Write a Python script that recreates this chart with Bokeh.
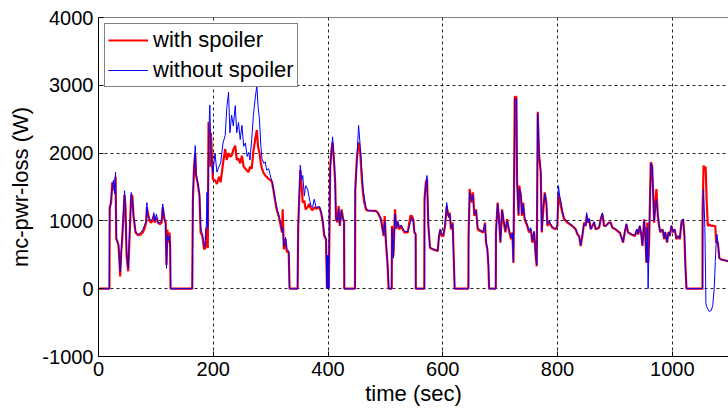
from bokeh.plotting import figure
from bokeh.models import Range1d, FixedTicker, Span
from bokeh.embed import file_html
from bokeh.resources import INLINE

# ---- data ----
time_sec = [0, 19, 19.5, 22, 24, 26, 28, 29.7, 31, 33, 35, 37.8, 39.5, 41, 45.4, 47, 49, 51.8, 57, 59,
            61, 64.5, 68.5, 74, 77, 80, 83, 84.3, 86, 89, 92, 95, 96.5, 98, 101, 104, 107, 110, 112, 115,
            117, 118.5, 120, 122, 123.8, 125, 125.6, 163.4, 164.5, 166.5, 168.6, 170, 173, 176, 178, 181, 184, 186, 188, 189,
            190.5, 191.8, 194, 196, 199.4, 203, 206.4, 210, 213, 217, 220.8, 223.5, 226.7, 229, 232, 235, 238.3, 241, 244, 247,
            250, 253, 256, 259, 261.6, 264, 267, 270, 273, 276, 278, 280.5, 283, 284.9, 288, 290.6, 293, 296.5, 300, 302.5,
            306, 308.3, 311, 314, 317, 319.9, 321, 323, 326, 328, 331.5, 333, 347, 348, 351.7, 354, 356, 358.7, 361, 364.5,
            367, 370.3, 373, 376.1, 379, 385, 388, 391, 393.5, 396.5, 398.2, 399, 399.8, 400.5, 401.3, 402, 403.9, 406, 408, 410.5,
            412.5, 413.9, 416.5, 418.5, 420.5, 423.6, 426.5, 428, 428.4, 447, 447.5, 450.3, 453.3, 456.2, 458.5, 460.8, 463.2, 466.1, 469, 475,
            483.5, 487, 492.2, 495, 497, 498.8, 501, 503.9, 505.7, 511, 511.5, 513.9, 516.8, 519.1, 521.5, 524.4, 527.3, 533.1, 539, 543.6,
            545.8, 548.7, 550.5, 552.8, 553, 567.9, 568.2, 570.5, 572.6, 574.9, 577.8, 583.6, 591.2, 593.5, 595.8, 598.1, 601, 604, 606.9, 609.8,
            612.1, 614.4, 617.3, 619.7, 620.8, 644.7, 645, 646.9, 650.4, 652.7, 655, 658, 660.9, 665, 670.7, 673.6, 675.4, 677.7, 679.6, 680.8,
            692.4, 692.7, 695.6, 697.6, 700.5, 703.4, 706.3, 709.2, 712.1, 715, 719, 721.4, 723.2, 725.5, 728.4, 729.5, 732.1, 733.3, 736.2, 737.9,
            740.2, 742.6, 744.9, 747.2, 750.4, 753.3, 756.2, 759.1, 762, 763.8, 765.5, 767.9, 770.8, 772.5, 774.8, 777.7, 780.6, 782.4, 785.3, 791.1,
            796.9, 799.8, 801.5, 803.8, 806.2, 808.5, 811.4, 817.2, 825.9, 831.7, 834.6, 837.5, 840.4, 843.3, 846.3, 849.2, 850.9, 852.6, 855, 857.9,
            860.8, 863.7, 866.6, 872.4, 875.3, 878.2, 881.1, 884, 889.8, 892.7, 895.6, 901.4, 907.2, 908.5, 914.3, 917.2, 920.1, 923, 928.9, 934.7,
            938.7, 940.5, 943.4, 946.3, 948, 950.9, 952.7, 955, 956.5, 957.9, 959.6, 962.6, 964.9, 966.7, 968.4, 970.7, 972.4, 974.8, 977.1, 979.1,
            983.1, 986, 987.8, 991, 993.3, 995.6, 998.5, 1001.4, 1004.3, 1007.3, 1010.2, 1013.1, 1016, 1018.9, 1021.2, 1022.9, 1024.8, 1052.7, 1052.9, 1054.6,
            1056.8, 1058, 1058.6, 1059.8, 1062, 1064.4, 1068, 1070.5, 1073.1, 1075, 1076.5, 1078, 1079.5, 1082, 1085.6, 1100]

with_spoiler = [0, 0, 1200, 1270, 1570, 1520, 1450, 1650, 730, 700, 630, 180, 530, 680, 1380, 1220, 480, 257, 1380, 1370,
                1070, 830, 790, 800, 830, 880, 975, 1200, 1120, 1000, 975, 1020, 1080, 975, 1050, 975, 950, 975, 1200, 1030,
                975, 350, 870, 680, 830, 580, 0, 0, 1300, 1800, 2000, 1670, 1550, 1370, 830, 780, 580, 600, 900, 700,
                600, 2460, 1800, 2300, 1610, 1600, 1545, 1650, 1570, 1850, 2060, 1900, 2000, 1950, 1960, 2050, 2110, 1900, 1920, 1850,
                1960, 1800, 1770, 1740, 1720, 1800, 1770, 2030, 2200, 2340, 2100, 2000, 1850, 1770, 1700, 1670, 1650, 1620, 1600, 1570,
                1400, 1270, 1150, 1075, 950, 830, 1170, 580, 730, 550, 530, 0, 0, 900, 1750, 1520, 1270, 1300, 1170, 1200,
                1250, 1180, 1160, 1200, 1180, 1200, 1120, 975, 777, 730, 0, 490, 0, 490, 0, 500, 1820, 2050, 2160, 1870,
                1570, 1025, 980, 1220, 925, 1170, 1025, 1000, 0, 0, 1470, 1915, 2160, 2010, 1670, 1420, 1270, 1170, 1150, 1150,
                1150, 1120, 1025, 875, 777, 1070, 680, 330, 0, 0, 925, 480, 1170, 880, 975, 875, 925, 830, 830, 1075,
                1075, 1020, 830, 800, 0, 0, 1320, 1570, 1620, 925, 600, 580, 555, 777, 875, 777, 777, 925, 1220, 1075,
                1120, 875, 975, 280, 0, 0, 777, 1470, 1270, 1420, 1075, 1170, 875, 850, 830, 975, 680, 580, 330, 0,
                0, 830, 1270, 1075, 680, 1170, 975, 830, 1025, 875, 730, 830, 380, 2830, 2830, 1570, 1075, 1520, 1370, 1075,
                1270, 1025, 975, 925, 830, 875, 680, 830, 480, 330, 2610, 1965, 1720, 830, 1120, 1420, 1270, 925, 975, 900,
                875, 925, 1400, 1300, 1200, 1120, 1025, 975, 925, 875, 800, 777, 630, 777, 975, 925, 1080, 975, 1025, 875,
                925, 975, 875, 900, 1025, 1100, 925, 925, 975, 975, 900, 875, 830, 830, 680, 830, 950, 830, 800, 777,
                875, 800, 925, 777, 630, 1025, 830, 380, 975, 380, 680, 1865, 1815, 1420, 975, 1270, 1470, 1075, 925, 830,
                875, 730, 830, 680, 830, 777, 925, 830, 875, 730, 777, 730, 975, 1025, 777, 330, 0, 0, 1170, 1815,
                1750, 1800, 1700, 1320, 925, 950, 925, 930, 925, 925, 680, 700, 680, 450, 430, 400]

without_spoiler = [0, 0, 1150, 1300, 1500, 1600, 1400, 1720, 760, 680, 650, 250, 500, 720, 1445, 1150, 520, 300, 1420, 1300,
                   1100, 850, 800, 830, 870, 930, 1000, 1270, 1080, 1030, 1000, 1060, 1120, 1000, 1100, 960, 980, 1000, 1250, 1000,
                   960, 300, 800, 720, 780, 600, 0, 0, 1370, 1750, 2110, 1700, 1570, 1400, 900, 800, 650, 620, 950, 1420,
                   900, 2200, 2710, 2000, 1700, 2000, 1720, 1800, 1860, 2150, 2260, 2660, 2900, 2300, 2560, 2400, 2700, 2300, 2450, 2200,
                   2410, 2100, 2150, 1950, 2010, 1900, 2200, 2560, 2800, 3000, 2700, 2500, 2100, 1920, 1850, 1870, 1750, 1770, 1650, 1580,
                   1420, 1300, 1180, 1090, 980, 850, 900, 620, 760, 580, 560, 0, 0, 950, 1820, 1600, 1670, 1370, 1520, 1470,
                   1350, 1220, 1200, 1320, 1200, 1210, 1130, 1000, 800, 740, 0, 490, 0, 490, 0, 500, 1750, 2000, 2240, 1900,
                   1600, 1050, 1000, 1180, 950, 1150, 1000, 980, 0, 0, 1400, 1900, 2410, 2100, 1800, 1500, 1350, 1200, 1160, 1150,
                   1140, 1110, 1030, 900, 800, 1000, 700, 380, 0, 0, 900, 450, 1100, 900, 1000, 900, 940, 850, 840, 975,
                   1050, 1000, 850, 800, 0, 0, 1300, 1500, 1670, 950, 610, 580, 560, 780, 880, 800, 790, 950, 1270, 1050,
                   1100, 900, 950, 300, 0, 0, 800, 1420, 1300, 1380, 1100, 1150, 900, 870, 840, 950, 700, 600, 350, 0,
                   0, 800, 1250, 1100, 700, 1150, 1000, 850, 1000, 900, 750, 820, 400, 2800, 2800, 1600, 1100, 1480, 1400, 1100,
                   1250, 1050, 1000, 950, 850, 900, 700, 850, 500, 350, 2580, 2000, 1700, 850, 1150, 1400, 1250, 950, 1000, 910,
                   880, 950, 1520, 1370, 1270, 1150, 1050, 990, 930, 880, 820, 780, 640, 790, 960, 930, 1120, 980, 1040, 880,
                   930, 990, 880, 905, 1030, 1120, 930, 920, 980, 970, 905, 880, 835, 830, 690, 840, 960, 835, 805, 785,
                   880, 805, 930, 780, 640, 1000, 840, 400, 900, 0, 650, 1850, 1800, 1400, 1000, 1250, 1320, 1100, 930, 840,
                   880, 740, 840, 690, 840, 780, 930, 840, 880, 740, 780, 740, 980, 1030, 780, 350, 0, 0, 1025, 1470,
                   900, 200, -213, -260, -300, -336, -320, -250, 0, 400, 680, 800, 680, 450, 430, 400]

x_ticks = [0, 200, 400, 600, 800, 1000, 1200]
y_ticks = [-1000, 0, 1000, 2000, 3000, 4000]
y_tick_labels = {-1000: "-1000", 0: "0", 1000: "1000", 2000: "2000", 3000: "3000", 4000: "4000"}

FONT = "Liberation Sans"

p = figure(width=728, height=412, output_backend="svg", toolbar_location=None,
           x_range=Range1d(0, 1098), y_range=Range1d(-1000, 4000),
           min_border_left=98, min_border_right=0, min_border_top=17, min_border_bottom=56)
p.background_fill_color = "white"
p.border_fill_color = "white"
p.outline_line_color = None

bottom = p.below[0]
left = p.left[0]

p.line(time_sec, with_spoiler, line_color="#ff0000", line_width=2.2, legend_label="with spoiler")
p.line(time_sec, without_spoiler, line_color="#0000ff", line_width=1, legend_label="without spoiler")

# top border of the axes box
p.add_layout(Span(location=y_ticks[-1], dimension="width", line_color="black", line_width=1))

bottom.ticker = FixedTicker(ticks=x_ticks)
left.ticker = FixedTicker(ticks=y_ticks)
left.major_label_overrides = y_tick_labels
for ax in [bottom, left]:
    ax.major_tick_in = 5
    ax.major_tick_out = 0
    ax.minor_tick_line_color = None
    ax.axis_line_color = "black"
    ax.major_tick_line_color = "black"
    ax.major_label_text_font = FONT
    ax.major_label_text_font_size = "20px"
    ax.major_label_text_color = "black"
    ax.axis_label_text_font = FONT
    ax.axis_label_text_font_size = "22px"
    ax.axis_label_text_font_style = "normal"
    ax.axis_label_text_color = "black"

bottom.axis_label = "time (sec)"
bottom.major_label_standoff = 5
bottom.axis_label_standoff = 2
left.axis_label = "mc-pwr-loss (W)"
left.major_label_standoff = 5
left.axis_label_standoff = 6

for g in [p.xgrid[0], p.ygrid[0]]:
    g.grid_line_color = "#222222"
    g.grid_line_dash = "3 3"
    g.grid_line_width = 1
p.xgrid[0].ticker = FixedTicker(ticks=x_ticks)
p.ygrid[0].ticker = FixedTicker(ticks=y_ticks)

lg = p.legend[0]
lg.location = "top_left"
lg.margin = 6
lg.padding = 3
lg.spacing = 4
lg.glyph_width = 40
lg.label_standoff = 5
lg.label_text_font = FONT
lg.label_text_font_size = "22px"
lg.label_text_color = "black"
lg.border_line_color = "black"
lg.border_line_width = 1
lg.background_fill_color = "white"
lg.background_fill_alpha = 1.0

open("out.html", "w").write(file_html(p, INLINE))
